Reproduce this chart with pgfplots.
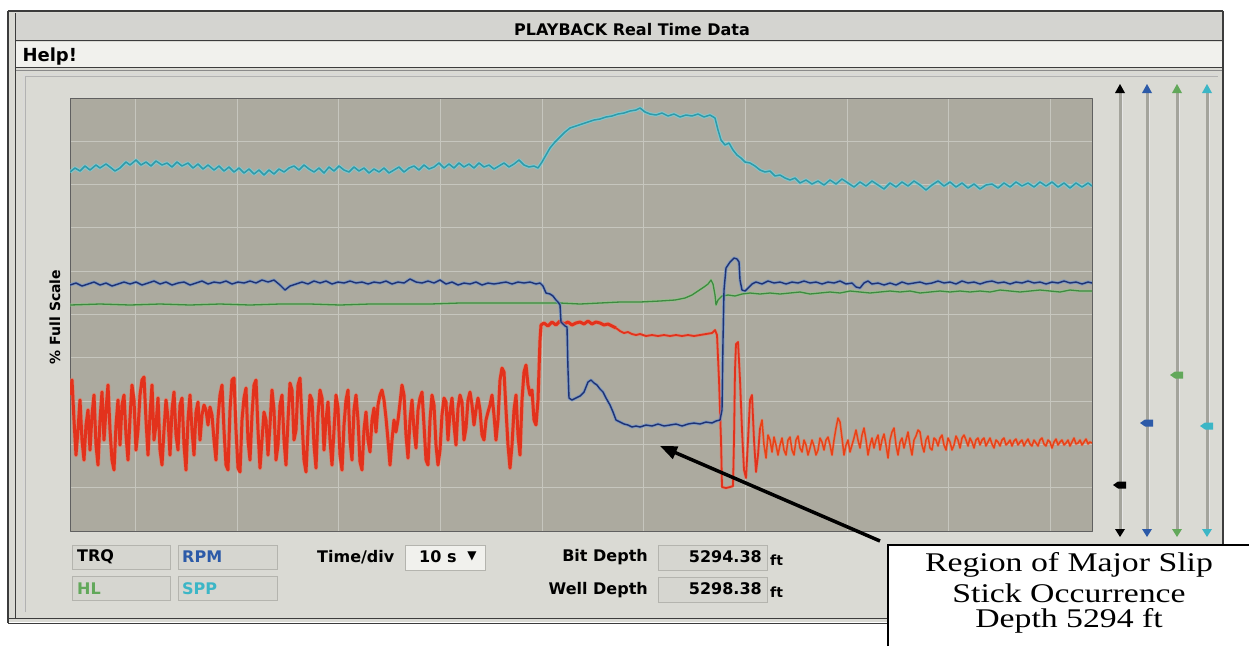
\documentclass[border=0pt]{standalone}
\usepackage{fontspec}
\setmainfont{DejaVu Sans}
\newfontfamily\annfont{Liberation Serif}
\usepackage{pgfplots}
\usepackage{pgfplotstable}
\pgfplotsset{compat=1.18}
\usetikzlibrary{arrows.meta}

\definecolor{panelc}{HTML}{DADAD4}
\definecolor{titlec}{HTML}{D4D4D0}
\definecolor{menuc}{HTML}{F1F1ED}
\definecolor{framec}{HTML}{3C3C3C}
\definecolor{plotbg}{HTML}{ACAA9F}
\definecolor{gridc}{HTML}{C6C6BE}
\definecolor{boxc}{HTML}{D6D6D0}
\definecolor{boxline}{HTML}{B4B4AE}
\definecolor{trackc}{HTML}{A4A49C}
\definecolor{trqc}{HTML}{E3321C}
\definecolor{trqlt}{HTML}{EE7A60}
\definecolor{rpmc}{HTML}{1E3274}
\definecolor{rpmlt}{HTML}{6F94CC}
\definecolor{hlc}{HTML}{3E8A40}
\definecolor{hllt}{HTML}{8CCB84}
\definecolor{sppc}{HTML}{2F9AAA}
\definecolor{spplt}{HTML}{72D2DE}
\definecolor{rpmtxt}{HTML}{2C5AA8}
\definecolor{hltxt}{HTML}{62A85A}
\definecolor{spptxt}{HTML}{3CB6C6}

% traces: x = sample position, y = screen row (top = 98, bottom = 531)
\pgfplotstableread[row sep=\\]{x y\\
70 172\\ 75 168\\ 80 171\\ 85 166\\ 90 170\\ 96 165\\ 100 168\\ 106 164\\ 110 167\\ 115 171\\ 120 168\\ 126 162\\ 130 165\\ 136 160\\ 141 165\\ 146 162\\ 151 166\\ 156 161\\ 162 165\\ 167 163\\ 172 167\\ 177 162\\ 182 166\\ 188 163\\ 193 168\\ 198 164\\ 203 169\\ 208 165\\ 214 170\\ 219 166\\ 224 171\\ 229 167\\ 234 172\\ 239 168\\ 244 173\\ 249 169\\ 254 174\\ 259 170\\ 264 175\\ 269 170\\ 274 174\\ 279 169\\ 284 172\\ 289 168\\ 294 166\\ 299 170\\ 304 165\\ 309 169\\ 314 172\\ 319 168\\ 324 173\\ 329 167\\ 334 171\\ 339 166\\ 344 170\\ 349 172\\ 354 167\\ 359 171\\ 364 168\\ 369 173\\ 374 169\\ 379 172\\ 384 168\\ 389 173\\ 394 170\\ 399 167\\ 404 172\\ 409 168\\ 414 166\\ 419 170\\ 424 165\\ 429 169\\ 434 167\\ 439 163\\ 444 168\\ 449 164\\ 454 168\\ 459 163\\ 464 167\\ 469 164\\ 474 168\\ 479 163\\ 484 167\\ 489 165\\ 494 169\\ 499 166\\ 504 163\\ 509 167\\ 514 164\\ 519 160\\ 524 165\\ 529 167\\ 534 166\\ 538 168\\ 542 162\\ 546 155\\ 550 148\\ 555 142\\ 560 137\\ 565 132\\ 570 128\\ 576 126\\ 582 124\\ 588 122\\ 594 120\\ 600 119\\ 606 117\\ 612 116\\ 618 114\\ 624 113\\ 630 111\\ 636 110\\ 640 108\\ 645 112\\ 650 114\\ 656 115\\ 662 113\\ 668 116\\ 674 114\\ 680 117\\ 686 115\\ 692 116\\ 698 114\\ 704 117\\ 710 115\\ 715 118\\ 718 130\\ 721 140\\ 725 145\\ 729 143\\ 733 150\\ 737 155\\ 741 158\\ 745 162\\ 750 163\\ 755 166\\ 760 170\\ 765 172\\ 770 171\\ 775 176\\ 780 175\\ 785 178\\ 790 180\\ 795 178\\ 800 183\\ 806 180\\ 812 184\\ 818 181\\ 824 185\\ 830 180\\ 836 184\\ 842 179\\ 848 183\\ 854 187\\ 860 182\\ 866 186\\ 872 181\\ 878 185\\ 884 189\\ 890 183\\ 896 187\\ 902 182\\ 908 186\\ 914 181\\ 920 185\\ 926 190\\ 932 185\\ 938 181\\ 944 186\\ 950 182\\ 956 187\\ 962 183\\ 968 188\\ 974 184\\ 980 189\\ 986 185\\ 992 184\\ 998 188\\ 1004 183\\ 1010 187\\ 1016 182\\ 1022 186\\ 1028 183\\ 1034 187\\ 1040 182\\ 1046 186\\ 1052 182\\ 1058 187\\ 1064 183\\ 1070 188\\ 1076 183\\ 1082 187\\ 1088 183\\ 1092 186\\
}\spp

\pgfplotstableread[row sep=\\]{x y\\
70 285\\ 76 283\\ 82 286\\ 88 284\\ 94 282\\ 100 285\\ 106 283\\ 112 286\\ 118 284\\ 124 282\\ 130 284\\ 136 282\\ 142 285\\ 148 283\\ 154 281\\ 160 284\\ 166 282\\ 172 285\\ 178 283\\ 184 282\\ 190 285\\ 196 283\\ 202 281\\ 208 284\\ 214 282\\ 220 283\\ 226 281\\ 232 284\\ 238 282\\ 244 283\\ 250 281\\ 256 283\\ 262 280\\ 268 282\\ 274 280\\ 280 285\\ 285 290\\ 290 286\\ 296 284\\ 302 282\\ 308 284\\ 314 281\\ 320 283\\ 326 281\\ 332 284\\ 338 282\\ 344 283\\ 350 281\\ 356 283\\ 362 282\\ 368 284\\ 374 282\\ 380 283\\ 386 281\\ 392 284\\ 398 282\\ 404 283\\ 410 279\\ 416 282\\ 422 283\\ 428 281\\ 434 283\\ 440 280\\ 446 284\\ 452 282\\ 458 285\\ 464 283\\ 470 284\\ 476 282\\ 482 285\\ 488 283\\ 494 284\\ 500 283\\ 506 282\\ 512 284\\ 518 282\\ 524 283\\ 530 282\\ 536 284\\ 540 283\\ 543 286\\ 546 293\\ 550 294\\ 553 296\\ 556 300\\ 558 302\\ 560 305\\ 561 322\\ 563 324\\ 565 326\\ 567 327\\ 568 370\\ 569 398\\ 572 400\\ 576 398\\ 580 396\\ 584 392\\ 588 382\\ 591 380\\ 594 383\\ 597 385\\ 600 389\\ 603 392\\ 606 398\\ 610 405\\ 613 412\\ 616 420\\ 620 422\\ 624 424\\ 628 425\\ 632 427\\ 636 426\\ 640 427\\ 646 425\\ 652 426\\ 658 424\\ 664 426\\ 670 425\\ 676 424\\ 682 426\\ 688 424\\ 694 423\\ 700 424\\ 706 422\\ 712 423\\ 716 421\\ 720 420\\ 722 410\\ 723 340\\ 724 290\\ 726 268\\ 730 262\\ 734 258\\ 737 259\\ 739 262\\ 740 280\\ 742 290\\ 745 291\\ 748 288\\ 752 284\\ 756 282\\ 762 284\\ 768 281\\ 774 283\\ 780 282\\ 786 284\\ 792 282\\ 798 283\\ 804 281\\ 810 283\\ 816 282\\ 822 284\\ 828 282\\ 834 283\\ 840 281\\ 846 284\\ 852 283\\ 856 287\\ 860 288\\ 864 283\\ 868 281\\ 872 284\\ 878 283\\ 884 285\\ 890 283\\ 896 285\\ 902 282\\ 908 284\\ 914 283\\ 920 282\\ 926 284\\ 932 283\\ 938 281\\ 944 283\\ 950 282\\ 956 284\\ 962 281\\ 968 283\\ 974 282\\ 980 284\\ 986 282\\ 992 281\\ 998 283\\ 1004 282\\ 1010 284\\ 1016 282\\ 1022 283\\ 1028 281\\ 1034 283\\ 1040 282\\ 1046 284\\ 1052 282\\ 1058 283\\ 1064 281\\ 1070 283\\ 1076 282\\ 1082 284\\ 1088 282\\ 1092 283\\
}\rpm

\pgfplotstableread[row sep=\\]{x y\\
70 305\\ 100 304\\ 130 305\\ 160 304\\ 190 305\\ 220 304\\ 250 305\\ 280 304\\ 310 304\\ 340 305\\ 370 304\\ 400 304\\ 430 304\\ 460 303\\ 490 303\\ 520 303\\ 540 303\\ 560 303\\ 580 304\\ 600 303\\ 620 302\\ 640 302\\ 660 301\\ 675 300\\ 685 298\\ 692 295\\ 698 291\\ 704 287\\ 708 284\\ 711 280\\ 713 284\\ 715 295\\ 716 305\\ 718 300\\ 722 296\\ 728 295\\ 735 296\\ 742 294\\ 750 293\\ 760 294\\ 770 293\\ 780 294\\ 790 293\\ 800 292\\ 810 294\\ 820 293\\ 830 292\\ 840 293\\ 850 291\\ 860 292\\ 870 293\\ 880 292\\ 890 291\\ 900 292\\ 910 291\\ 920 293\\ 930 292\\ 940 291\\ 950 292\\ 960 291\\ 970 292\\ 980 291\\ 990 292\\ 1000 290\\ 1010 291\\ 1020 292\\ 1030 291\\ 1040 290\\ 1050 291\\ 1060 292\\ 1070 290\\ 1080 291\\ 1092 291\\
}\hl

\pgfplotstableread[row sep=\\]{x y\\
70 395\\ 72 380\\ 74 420\\ 76 455\\ 78 430\\ 80 400\\ 82 440\\ 84 460\\ 86 425\\ 88 410\\ 90 450\\ 92 415\\ 94 395\\ 96 445\\ 98 465\\ 100 420\\ 102 392\\ 104 440\\ 106 410\\ 108 385\\ 110 430\\ 112 460\\ 114 470\\ 116 425\\ 118 400\\ 120 445\\ 122 405\\ 124 395\\ 126 435\\ 128 460\\ 130 418\\ 132 385\\ 134 400\\ 136 450\\ 138 430\\ 140 395\\ 142 380\\ 144 377\\ 146 420\\ 148 455\\ 150 415\\ 152 385\\ 154 440\\ 156 425\\ 158 398\\ 160 450\\ 162 465\\ 164 430\\ 166 400\\ 168 418\\ 170 455\\ 172 410\\ 174 392\\ 176 435\\ 178 450\\ 180 405\\ 182 398\\ 184 445\\ 186 470\\ 188 420\\ 190 395\\ 192 430\\ 194 455\\ 196 412\\ 198 402\\ 200 440\\ 202 415\\ 204 405\\ 206 410\\ 208 425\\ 210 407\\ 212 415\\ 214 440\\ 216 460\\ 218 418\\ 220 395\\ 222 385\\ 224 430\\ 226 465\\ 228 470\\ 230 410\\ 232 380\\ 234 378\\ 236 430\\ 238 468\\ 240 472\\ 242 420\\ 244 398\\ 246 388\\ 248 440\\ 250 460\\ 252 415\\ 254 385\\ 256 380\\ 258 430\\ 260 468\\ 262 440\\ 264 412\\ 266 420\\ 268 455\\ 270 425\\ 272 390\\ 274 410\\ 276 460\\ 278 445\\ 280 405\\ 282 395\\ 284 440\\ 286 465\\ 288 420\\ 290 383\\ 292 390\\ 294 440\\ 296 430\\ 298 385\\ 300 378\\ 302 420\\ 304 460\\ 306 472\\ 308 430\\ 310 395\\ 312 400\\ 314 445\\ 316 468\\ 318 415\\ 320 390\\ 322 398\\ 324 450\\ 326 420\\ 328 402\\ 330 440\\ 332 465\\ 334 430\\ 336 395\\ 338 408\\ 340 455\\ 342 470\\ 344 425\\ 346 400\\ 348 390\\ 350 440\\ 352 460\\ 354 410\\ 356 395\\ 358 420\\ 360 462\\ 362 470\\ 364 430\\ 366 412\\ 368 440\\ 370 452\\ 372 420\\ 374 408\\ 376 432\\ 378 405\\ 380 395\\ 382 390\\ 384 400\\ 386 418\\ 388 440\\ 390 465\\ 392 440\\ 394 420\\ 396 432\\ 398 420\\ 400 403\\ 402 385\\ 404 395\\ 406 435\\ 408 458\\ 410 420\\ 412 400\\ 414 430\\ 416 448\\ 418 410\\ 420 398\\ 422 392\\ 424 425\\ 426 460\\ 428 465\\ 430 420\\ 432 395\\ 434 405\\ 436 445\\ 438 465\\ 440 450\\ 442 415\\ 444 398\\ 446 402\\ 448 440\\ 450 412\\ 452 398\\ 454 425\\ 456 445\\ 458 408\\ 460 395\\ 462 402\\ 464 440\\ 466 428\\ 468 400\\ 470 392\\ 472 405\\ 474 425\\ 476 410\\ 478 398\\ 480 410\\ 482 435\\ 484 440\\ 486 420\\ 488 412\\ 490 405\\ 492 395\\ 494 415\\ 496 440\\ 498 420\\ 500 380\\ 502 368\\ 504 372\\ 506 410\\ 508 445\\ 510 468\\ 512 445\\ 514 410\\ 516 395\\ 518 435\\ 520 455\\ 522 400\\ 524 372\\ 526 365\\ 528 385\\ 530 395\\ 532 390\\ 534 420\\ 536 425\\ 538 400\\ 540 340\\ 541 325\\ 544 323\\ 548 326\\ 552 322\\ 556 325\\ 560 321\\ 564 324\\ 568 322\\ 572 325\\ 576 323\\ 580 322\\ 584 324\\ 588 321\\ 592 324\\ 596 322\\ 600 323\\ 604 325\\ 608 324\\ 612 326\\ 616 328\\
}\trqA

\pgfplotstableread[row sep=\\]{x y\\
616 328\\ 620 331\\ 624 333\\ 628 332\\ 632 334\\ 636 335\\ 640 334\\ 646 336\\ 652 335\\ 658 336\\ 664 335\\ 670 336\\ 676 335\\ 682 336\\ 688 335\\ 694 336\\ 700 335\\ 706 334\\ 712 333\\ 715 330\\ 717 335\\ 719 380\\ 721 440\\ 722 487\\ 726 488\\ 730 487\\ 733 486\\ 734 440\\ 735 370\\ 736 344\\ 738 342\\ 740 380\\ 742 430\\ 744 470\\ 746 478\\ 748 440\\ 750 400\\ 752 395\\ 754 440\\ 756 472\\ 758 455\\ 760 428\\
}\trqB

\pgfplotstableread[row sep=\\]{x y\\
760 428\\ 762 420\\ 764 445\\ 766 458\\ 768 435\\ 770 440\\ 772 452\\ 774 437\\ 776 445\\ 778 455\\ 780 445\\ 782 438\\ 784 450\\ 786 455\\ 788 440\\ 790 437\\ 792 450\\ 794 455\\ 796 440\\ 798 436\\ 800 448\\ 802 452\\ 804 440\\ 806 445\\ 808 455\\ 810 448\\ 812 440\\ 814 446\\ 816 455\\ 818 450\\ 820 438\\ 822 442\\ 824 450\\ 826 440\\ 828 437\\ 830 445\\ 832 455\\ 834 440\\ 836 428\\ 838 418\\ 840 422\\ 842 438\\ 844 455\\ 846 445\\ 848 440\\ 850 452\\ 852 445\\ 854 438\\ 856 430\\ 858 440\\ 860 448\\ 862 435\\ 864 428\\ 866 440\\ 868 455\\ 870 445\\ 872 438\\ 874 448\\ 876 440\\ 878 435\\ 880 450\\ 882 440\\ 884 434\\ 886 445\\ 888 458\\ 890 440\\ 892 432\\ 894 428\\ 896 445\\ 898 455\\ 900 442\\ 902 438\\ 904 448\\ 906 440\\ 908 432\\ 910 445\\ 912 455\\ 914 440\\ 916 436\\ 918 430\\ 920 432\\ 922 445\\ 924 452\\ 926 440\\ 928 436\\ 930 448\\ 932 450\\ 934 438\\ 936 440\\ 938 446\\ 940 438\\ 942 435\\ 944 445\\ 946 450\\ 948 438\\ 950 442\\ 952 450\\ 954 445\\ 956 436\\ 958 440\\ 960 448\\ 962 438\\ 964 435\\ 966 440\\ 968 446\\ 970 438\\ 972 442\\ 974 448\\ 976 440\\ 978 438\\ 980 445\\ 982 440\\ 984 438\\ 986 446\\ 988 442\\ 990 438\\ 992 444\\ 994 448\\ 996 440\\ 998 442\\ 1000 446\\ 1002 440\\ 1004 438\\ 1006 445\\ 1008 443\\ 1010 440\\ 1012 446\\ 1014 441\\ 1016 439\\ 1018 445\\ 1020 442\\ 1022 440\\ 1024 446\\ 1026 442\\ 1028 439\\ 1030 444\\ 1032 446\\ 1034 440\\ 1036 443\\ 1038 446\\ 1040 440\\ 1042 438\\ 1044 444\\ 1046 446\\ 1048 440\\ 1050 442\\ 1052 448\\ 1054 442\\ 1056 439\\ 1058 445\\ 1060 442\\ 1062 440\\ 1064 445\\ 1066 443\\ 1068 440\\ 1070 446\\ 1072 442\\ 1074 438\\ 1076 444\\ 1078 443\\ 1080 440\\ 1082 445\\ 1084 442\\ 1086 439\\ 1088 444\\ 1090 442\\ 1092 443\\
}\trqC

\newcommand{\uifont}[1]{\fontsize{#1}{#1}\selectfont\bfseries}
\newcommand{\callout}[1]{\scalebox{1.25}[1]{\annfont\fontsize{27}{27}\selectfont #1}}

\begin{document}
\begin{tikzpicture}
\path[use as bounding box] (0pt,0pt) rectangle (1249pt,-646pt);

% ---------- window frame, title and menu bar ----------
\begin{scope}[x=1pt,y=-1pt]
  \fill[white] (0,0) rectangle (1249,646);
  \fill[panelc] (8,10) rectangle (1223,622);
  \fill[titlec] (15,13) rectangle (1223,40);
  \fill[menuc] (15,42) rectangle (1223,67);
  \draw[framec, line width=1.6pt] (8,11) -- (1223,11);
  \draw[framec, line width=1.2pt] (15,40.5) -- (1223,40.5);
  \draw[framec, line width=1.2pt] (15,67.5) -- (1223,67.5);
  \draw[framec!60, line width=0.8pt] (15,70) -- (1223,70);
  \draw[framec, line width=1.4pt] (8,11) -- (8,623);
  \draw[framec, line width=1.0pt] (15,13) -- (15,619);
  \draw[framec, line width=1.4pt] (8,618.5) -- (1223,618.5);
  \draw[framec, line width=1.0pt] (8,623) -- (1223,623);
  \draw[framec, line width=1.2pt] (1223,11) -- (1223,623);
  % panel groove
  \draw[white!70!gray, line width=1pt] (23,612) -- (23,74) -- (1218,74);
  \draw[gray!60, line width=0.6pt] (25,612) -- (25,76) -- (1218,76);
  \node[font=\uifont{16}] at (632,30) {PLAYBACK Real Time Data};
  \node[font=\uifont{18}, anchor=west] at (19,57) {Help!};
  \node[font=\uifont{14}, rotate=90] at (55,317) {\% Full Scale};
\end{scope}

% ---------- trace display ----------
\begin{axis}[
  at={(70pt,-98pt)}, anchor=north west,
  width=1022pt, height=433pt, scale only axis,
  xmin=70, xmax=1092, ymin=98, ymax=531, y dir=reverse,
  axis background/.style={fill=plotbg},
  xtick={135,237,338,440,542,643,745,847,948,1050},
  ytick={141.3,184.6,227.9,271.2,314.5,357.8,401.1,444.4,487.7},
  xticklabels={}, yticklabels={},
  major tick length=0pt,
  grid=major, grid style={draw=gridc, line width=0.9pt},
  axis line style={draw=gray!75!black, line width=0.8pt},
  line join=round, clip=true,
]
  % TRQ
  \addplot[trqlt, line width=4.4pt, opacity=0.55] table[x=x,y=y] {\trqA};
  \addplot[trqc, line width=3pt] table[x=x,y=y] {\trqA};
  \addplot[trqlt, line width=3.2pt, opacity=0.5] table[x=x,y=y] {\trqB};
  \addplot[trqc, line width=1.8pt] table[x=x,y=y] {\trqB};
  \addplot[trqlt, line width=3pt, opacity=0.5] table[x=x,y=y] {\trqC};
  \addplot[trqc!80!orange, line width=1.5pt] table[x=x,y=y] {\trqC};
  % HL
  \addplot[hllt, line width=3pt, opacity=0.6] table[x=x,y=y] {\hl};
  \addplot[hlc, line width=1.3pt] table[x=x,y=y] {\hl};
  % RPM
  \addplot[rpmlt, line width=3.2pt, opacity=0.7] table[x=x,y=y] {\rpm};
  \addplot[rpmc, line width=1.4pt] table[x=x,y=y] {\rpm};
  % SPP
  \addplot[spplt, line width=3.6pt, opacity=0.7] table[x=x,y=y] {\spp};
  \addplot[sppc, line width=1.5pt] table[x=x,y=y] {\spp};
\end{axis}

% ---------- scale sliders, controls, callout ----------
\begin{scope}[x=1pt,y=-1pt]
  \foreach \tx/\col/\hy in {1120/black/485, 1147/rpmtxt/423, 1177/hltxt/375, 1207/spptxt/426}{
    \draw[trackc, line width=3pt] (\tx,92) -- (\tx,530);
    \draw[white!80!gray, line width=0.8pt] (\tx+2.2,92) -- (\tx+2.2,530);
    \fill[\col] (\tx-5,93) -- (\tx+5,93) -- (\tx,84) -- cycle;
    \fill[\col] (\tx-5,529) -- (\tx+5,529) -- (\tx,537) -- cycle;
    \fill[\col] (\tx-7,\hy) -- (\tx-2,\hy-3.5) -- (\tx+6,\hy-3.5) -- (\tx+6,\hy+3.5) -- (\tx-2,\hy+3.5) -- cycle;
  }
  % channel boxes
  \filldraw[fill=boxc, draw=boxline, line width=1pt] (72,545) rectangle (170,569);
  \filldraw[fill=boxc, draw=boxline, line width=1pt] (178,545) rectangle (277,569);
  \filldraw[fill=boxc, draw=boxline, line width=1pt] (72,576) rectangle (170,600);
  \filldraw[fill=boxc, draw=boxline, line width=1pt] (178,576) rectangle (277,600);
  \node[font=\uifont{16}, anchor=west, inner sep=0pt] at (77,557) {TRQ};
  \node[font=\uifont{16}, anchor=west, inner sep=0pt, text=rpmtxt] at (182,557) {RPM};
  \node[font=\uifont{16}, anchor=west, inner sep=0pt, text=hltxt] at (77,589) {HL};
  \node[font=\uifont{16}, anchor=west, inner sep=0pt, text=spptxt] at (182,589) {SPP};
  % time base
  \node[font=\uifont{16}, anchor=west, inner sep=0pt] at (317,557) {Time/div};
  \filldraw[fill=menuc, draw=boxline, line width=1pt] (405,545) rectangle (485,570);
  \node[font=\uifont{16}, anchor=west, inner sep=0pt] at (419,557) {10 s};
  \node[font=\uifont{12}, inner sep=0pt] at (472,556) {▼};
  % depths
  \node[font=\uifont{16}, anchor=east, inner sep=0pt] at (648,557) {Bit Depth};
  \node[font=\uifont{16}, anchor=east, inner sep=0pt] at (648,590) {Well Depth};
  \filldraw[fill=boxc, draw=boxline, line width=1pt] (658,545) rectangle (767,570);
  \filldraw[fill=boxc, draw=boxline, line width=1pt] (658,577) rectangle (767,602);
  \node[font=\uifont{16}, anchor=east, inner sep=0pt] at (762,557) {5294.38};
  \node[font=\uifont{16}, anchor=east, inner sep=0pt] at (762,589) {5298.38};
  \node[font=\uifont{14}, anchor=west, inner sep=0pt] at (770,560) {ft};
  \node[font=\uifont{14}, anchor=west, inner sep=0pt] at (770,592) {ft};
  % callout
  \fill[white] (888,545) rectangle (1249,646);
  \draw[black, line width=1.3pt] (888,646) -- (888,545) -- (1249,545);
  \node at (1069,565) {\callout{Region of Major Slip}};
  \node at (1069,593) {\callout{Stick Occurrence}};
  \node at (1069,621) {\callout{Depth 5294 ft}};
  \draw[black, line width=3.5pt, -{Triangle[length=17pt,width=13pt]}] (880,541) -- (660,446);
\end{scope}
\end{tikzpicture}
\end{document}
